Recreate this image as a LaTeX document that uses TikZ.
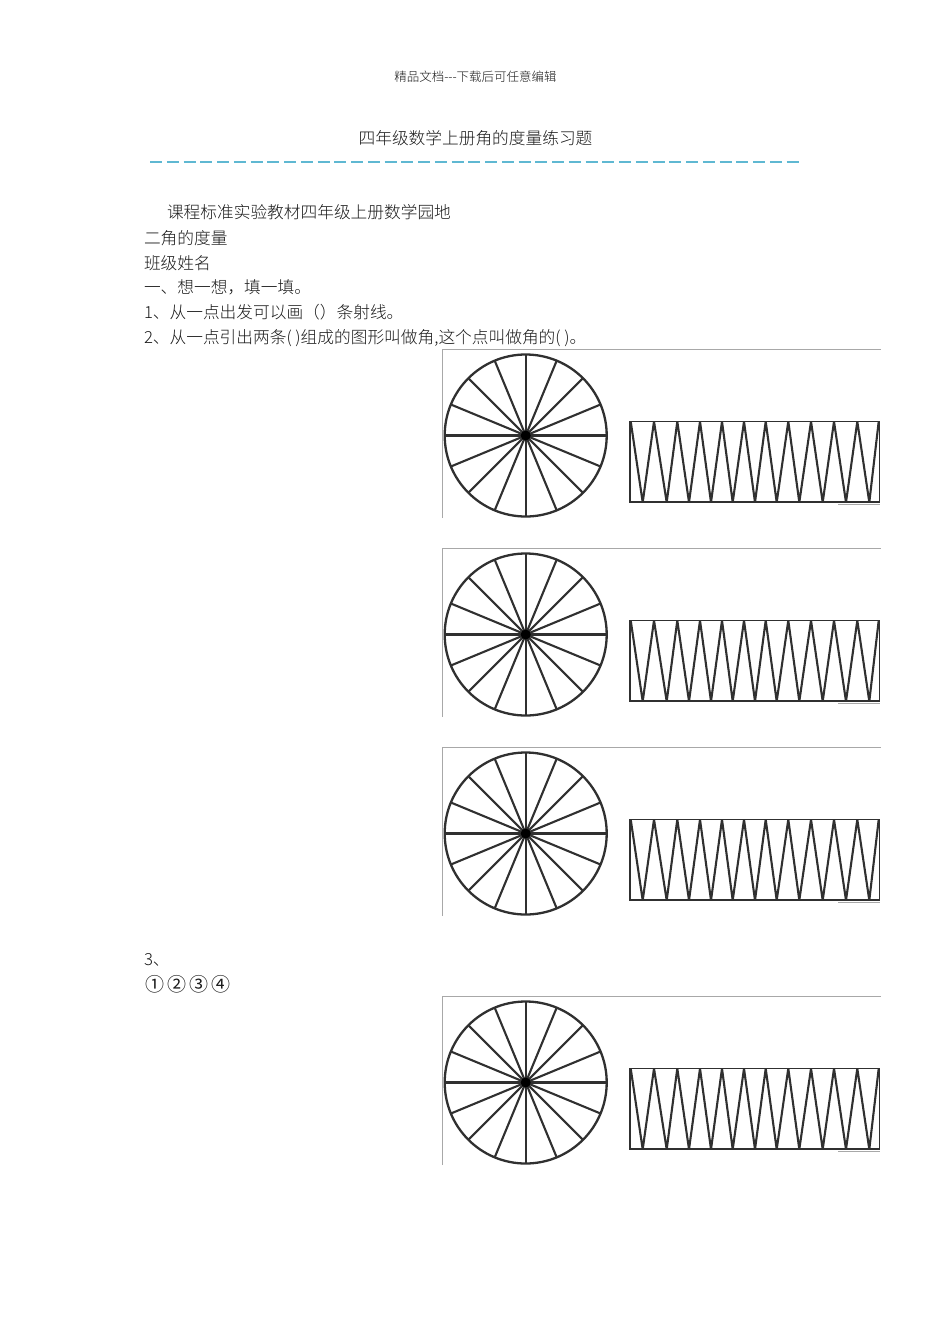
\documentclass[tikz,border=0pt]{standalone}
\usepackage{fontspec}
\setmainfont{Carlito}
\newfontfamily\cjk{Noto Sans CJK SC Light}[Scale=1]
\newfontfamily\cjkb{Noto Sans CJK SC}
\definecolor{dashblue}{HTML}{5FB8D2}
\definecolor{framegray}{HTML}{A8A8A8}
\definecolor{inkline}{HTML}{303030}
\tikzset{
  x=1pt,y=-1pt,
  bodytext/.style={anchor=base west,inner sep=0pt,outer sep=0pt,font=\fontsize{16.7}{18}\selectfont\cjk,text=black!90},
  headtext/.style={anchor=base,inner sep=0pt,outer sep=0pt,font=\fontsize{12.5}{14}\selectfont\cjk,text=black!90},
  titletext/.style={anchor=base,inner sep=0pt,outer sep=0pt,font=\fontsize{16.7}{18}\selectfont\cjk,text=black!90},
  spoke/.style={draw=inkline,line width=2.1pt},
  rim/.style={draw=inkline,line width=2.3pt},
  frameline/.style={draw=framegray,line width=1pt},
  zig/.style={draw=inkline,line width=2.1pt,line join=miter,miter limit=2},
}
\newcommand{\figblock}[1]{%
\begin{scope}[yshift=-#1pt]
  \draw[frameline] (442.5,518) -- (442.5,349.3) -- (881,349.3);
  \coordinate (c) at (525.7,435.5);
  \draw[rim] (c) circle[radius=81];
  \foreach \a in {22.5,45,67.5,90,112.5,135,157.5,202.5,225,247.5,270,292.5,315,337.5}
    \draw[spoke] (c) -- ++(\a:81pt);
  \draw[spoke,line width=3.2pt] (444.7,435.5) -- (606.7,435.5);
  \fill[black] (c) circle[radius=5];
  \draw[draw=inkline,line width=1.7pt] (630.3,421.5) rectangle (879.5,502.3);
  \draw[zig] (630.7,421.5) -- (642.7,502.3) -- (654,421.5) -- (666.7,502.3) -- (677.3,421.5)
    -- (689,502.3) -- (700,421.5) -- (711,502.3) -- (722,421.5) -- (732.7,502.3) -- (744,421.5)
    -- (755,502.3) -- (765.7,421.5) -- (776.7,502.3) -- (788.3,421.5) -- (799.3,502.3)
    -- (811,421.5) -- (822.7,502.3) -- (834,421.5) -- (846,502.3) -- (857.3,421.5) -- (869.3,502.3) -- (878.7,421.5);
  \draw[draw=framegray,line width=1pt] (838,504.5) -- (880,504.5);
\end{scope}}
\begin{document}
\begin{tikzpicture}
\useasboundingbox (0,0) rectangle (950,1344);
\node[headtext] (hd) at (475.5,81.5) {精品文档---下载后可任意编辑};
\node[titletext] (ti) at (475.5,144.5) {四年级数学上册角的度量练习题};
\draw[draw=dashblue,line width=1.1pt,dash pattern=on 12.2pt off 4.55pt] (150,162) -- (800,162);
\node[bodytext] (l1) at (167,218) {课程标准实验教材四年级上册数学园地};
\node[bodytext] (l2) at (144,244) {二角的度量};
\node[bodytext] (l3) at (144,269) {班级姓名};
\node[bodytext] (l4) at (144,293) {一、想一想，填一填。};
\node[bodytext] (l5) at (144,318) {1、从一点出发可以画（）条射线。};
\node[bodytext] (l6) at (144,343) {2、从一点引出两条( )组成的图形叫做角,这个点叫做角的( )。};
\node[bodytext] (l7) at (144,965) {3、};
\node[bodytext,font=\fontsize{19}{20}\selectfont\cjkb] (l8) at (145.3,991) {①\hspace{3pt}②\hspace{3pt}③\hspace{3pt}④};
\figblock{0}
\figblock{199}
\figblock{398}
\figblock{647}
\end{tikzpicture}
\end{document}
